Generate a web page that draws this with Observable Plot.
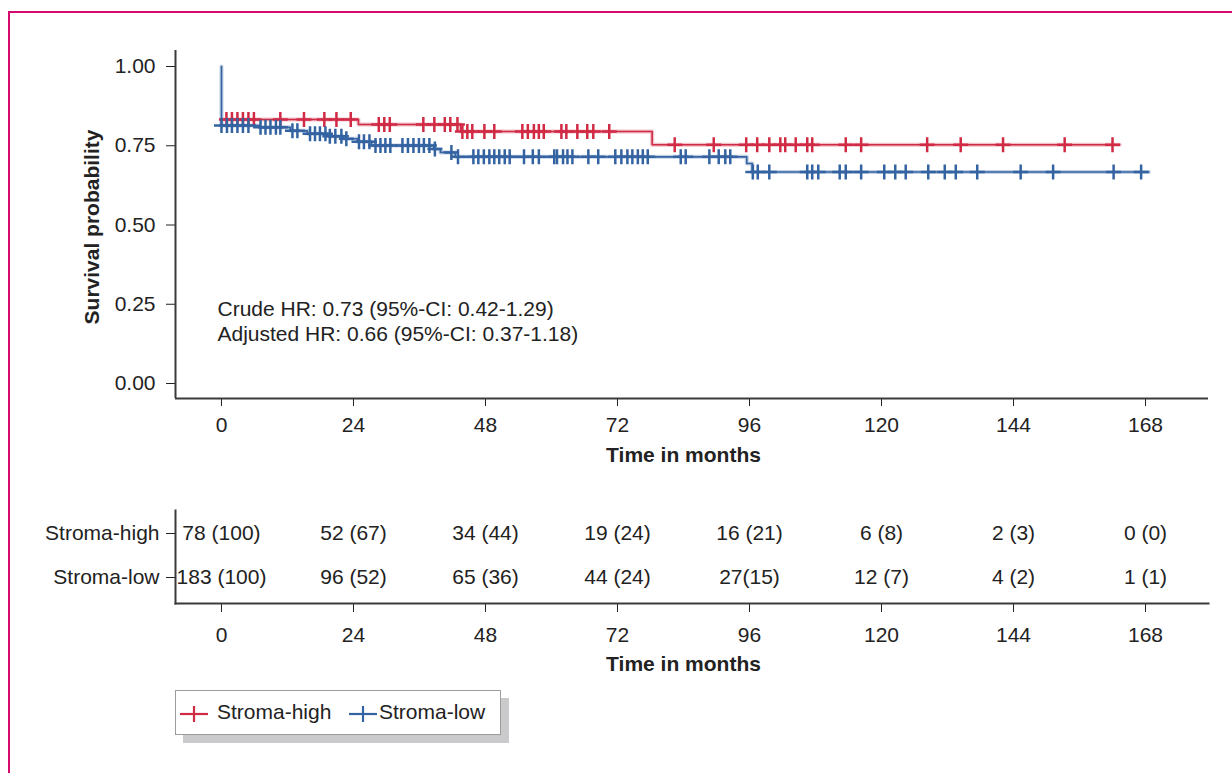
<!DOCTYPE html>
<html>
<head>
<meta charset="utf-8">
<script src="https://cdn.jsdelivr.net/npm/d3@7"></script>
<script src="https://cdn.jsdelivr.net/npm/@observablehq/plot@0.6"></script>
<style>
html,body{margin:0;padding:0;background:#fff;width:1232px;height:773px;overflow:hidden;font-family:"Liberation Sans",Arial,Helvetica,sans-serif;}
#border{position:absolute;left:8px;top:11px;width:1400px;height:900px;border-left:2px solid #d60a6c;border-top:2px solid #d60a6c;}
#km{position:absolute;left:0;top:0;}
#risk{position:absolute;left:0;top:480px;}
#legend{position:absolute;left:175px;top:690px;width:324px;height:43px;border:1px solid #9c9c9c;background:#fff;box-shadow:8px 8px 0 #cacacc;font-size:21px;color:#222;}
#legend .sym{position:absolute;top:13px;}
#legend .lab{position:absolute;top:9px;line-height:24px;white-space:nowrap;}
</style>
</head>
<body>
<div id="border"></div>
<div id="km"></div>
<div id="risk"></div>
<div id="legend"></div>
<script>
// ---------- data ----------
const groups = ["Stroma-high", "Stroma-low"];
const colors = ["#d02a45", "#3463a2"];

// Kaplan-Meier step points (time in months, survival probability)
const highStepTimes = [0, 24.9, 43.5, 78.3, 163.3];
const highStepSurv  = [0.833, 0.817, 0.795, 0.753, 0.753];
const lowStepTimes  = [0, 0, 7, 12.5, 15.6, 19.4, 22.2, 24.7, 27.3, 38.6, 39.8, 42.5, 95.5, 96.5, 168.6];
const lowStepSurv   = [1.0, 0.814, 0.808, 0.797, 0.788, 0.780, 0.772, 0.763, 0.751, 0.740, 0.729, 0.715, 0.694, 0.667, 0.667];

// censoring times (months)
const highCensor = [0.9, 1.9, 2.9, 3.9, 4.9, 5.9, 10.7, 15, 18.7, 20.9, 23.5, 28.6, 29.6, 30.6,
  36.7, 38.7, 40.6, 41.6, 42.9, 43.8, 44.7, 45.6, 47.8, 49.6, 54.7, 55.7, 56.8, 57.7, 58.6,
  61.8, 62.7, 64.7, 66.5, 67.6, 70.5, 82.4, 89.5, 95.4, 97.4, 99.6, 101.6, 102.5, 104.4,
  106.5, 107.4, 113.5, 116.3, 128.3, 134.4, 142.1, 153.3, 162];
const lowCensor = [0, 1, 1.9, 2.9, 3.9, 4.9, 7.1, 8, 8.9, 9.9, 10.7, 12.9, 13.8, 16.1, 17, 17.9,
  18.9, 19.7, 20.7, 21.8, 22.7, 25, 25.9, 26.9, 28, 28.9, 29.8, 30.7, 32.9, 33.9, 34.9, 35.9,
  36.8, 37.8, 38.8, 41.8, 43, 45.8, 46.7, 47.7, 48.7, 49.6, 50.5, 51.5, 52.4, 55, 56.6, 57.7,
  60.5, 61, 62.1, 62.9, 63.8, 66.7, 68.5, 71.6, 72.7, 73.8, 74.7, 75.7, 76.6, 77.5, 83.5, 84.4,
  88.7, 90.4, 91.6, 92.5, 96.6, 97.5, 99.6, 106.5, 107.4, 108.5, 112.4, 113.5, 116.3, 120.5,
  122.5, 124.4, 128.5, 131.5, 133.5, 137.4, 145.3, 151.2, 162.2, 167.2];

// numbers at risk
const timeTicks = [0, 24, 48, 72, 96, 120, 144, 168];
const riskHigh = ["78 (100)", "52 (67)", "34 (44)", "19 (24)", "16 (21)", "6 (8)", "2 (3)", "0 (0)"];
const riskLow  = ["183 (100)", "96 (52)", "65 (36)", "44 (24)", "27(15)", "12 (7)", "4 (2)", "1 (1)"];

const survTicks = [0, 0.25, 0.5, 0.75, 1.0];
const hrText = "Crude HR: 0.73 (95%-CI: 0.42-1.29)\nAdjusted HR: 0.66 (95%-CI: 0.37-1.18)";
const xTitle = "Time in months";
const yTitle = "Survival probability";

// ---------- derived tables ----------
const curve = (times, surv, g) => times.map((t, i) => ({t, s: surv[i], g}));
const survAt = (times, surv, t) => { let s = surv[0]; times.forEach((tt, i) => { if (tt <= t) s = surv[i]; }); return s; };
const highLine = curve(highStepTimes, highStepSurv, groups[0]);
const lowLine = curve(lowStepTimes, lowStepSurv, groups[1]);
const highMarks = highCensor.map(t => ({t, s: survAt(highStepTimes, highStepSurv, t)}));
const lowMarks = lowCensor.map(t => ({t, s: survAt(lowStepTimes, lowStepSurv, t)}));
const riskRows = [
  ...riskHigh.map((label, i) => ({t: timeTicks[i], g: groups[0], label})),
  ...riskLow.map((label, i) => ({t: timeTicks[i], g: groups[1], label}))
];

// plus-shaped censor symbol
const plusSymbol = {
  draw(ctx, size) {
    const r = Math.sqrt(size / Math.PI);
    ctx.moveTo(-r, 0); ctx.lineTo(r, 0);
    ctx.moveTo(0, -r); ctx.lineTo(0, r);
  }
};

const W = 1232;
const xDomain = [-8.36, 179.45];
const yDomain = [-0.0473, 1.0505];
const font = '"Liberation Sans", Arial, Helvetica, sans-serif';
const axisColor = "#3a3a3a";
const midTime = (timeTicks[0] + timeTicks[timeTicks.length - 1]) / 2;

const km = Plot.plot({
  width: W, height: 480,
  marginLeft: 175, marginRight: 24, marginTop: 50, marginBottom: 82,
  x: {domain: xDomain},
  y: {domain: yDomain},
  style: {fontFamily: font, fontSize: "21px", color: "#222", background: "transparent", overflow: "visible"},
  marks: [
    Plot.axisX({ticks: timeTicks, tickSize: 8, tickPadding: 11, label: null, fontSize: 21}),
    Plot.axisY({ticks: survTicks, tickFormat: d3.format(".2f"), tickSize: 9, tickPadding: 11, label: null, fontSize: 21}),
    Plot.ruleX([xDomain[0]], {stroke: axisColor, strokeWidth: 2}),
    Plot.ruleY([yDomain[0]], {stroke: axisColor, strokeWidth: 2}),
    Plot.line(highLine, {x: "t", y: "s", curve: "step-after", stroke: colors[0], strokeWidth: 4, strokeOpacity: 0.3}),
    Plot.line(highLine, {x: "t", y: "s", curve: "step-after", stroke: colors[0], strokeWidth: 1.6}),
    Plot.line(lowLine, {x: "t", y: "s", curve: "step-after", stroke: colors[1], strokeWidth: 4, strokeOpacity: 0.3}),
    Plot.line(lowLine, {x: "t", y: "s", curve: "step-after", stroke: colors[1], strokeWidth: 1.6}),
    Plot.dot(highMarks, {x: "t", y: "s", symbol: plusSymbol, r: 7.5, fill: "none", stroke: colors[0], strokeWidth: 2.5}),
    Plot.dot(lowMarks, {x: "t", y: "s", symbol: plusSymbol, r: 7.5, fill: "none", stroke: colors[1], strokeWidth: 2.5}),
    Plot.text([hrText], {x: [0], y: [0.2], dx: -4, textAnchor: "start", lineAnchor: "middle", lineHeight: 1.19, fontSize: 21, fill: "#222"}),
    Plot.text([xTitle], {x: [midTime], frameAnchor: "bottom", dy: 57, textAnchor: "middle", lineAnchor: "middle", fontWeight: "bold", fontSize: 21, fill: "#222"}),
    Plot.text([yTitle], {y: [0.5], frameAnchor: "left", dx: -83, dy: 2, rotate: -90, textAnchor: "middle", lineAnchor: "middle", fontWeight: "bold", fontSize: 21, fill: "#222"})
  ]
});
document.getElementById("km").appendChild(km);

const risk = Plot.plot({
  width: W, height: 200,
  marginLeft: 175, marginRight: 24, marginTop: 30, marginBottom: 77,
  x: {domain: xDomain},
  y: {type: "point", domain: groups, range: [53, 97], padding: 0},
  style: {fontFamily: font, fontSize: "21px", color: "#222", background: "transparent", overflow: "visible"},
  marks: [
    Plot.axisX({ticks: timeTicks, tickSize: 9, tickPadding: 15, label: null, fontSize: 21}),
    Plot.axisY({tickSize: 9, tickPadding: 7, label: null, fontSize: 21}),
    Plot.frame({anchor: "left", stroke: axisColor, strokeWidth: 2}),
    Plot.frame({anchor: "bottom", stroke: axisColor, strokeWidth: 2}),
    Plot.text(riskRows, {x: "t", y: "g", text: "label", fontSize: 21, fill: "#222"}),
    Plot.text([xTitle], {x: [midTime], frameAnchor: "bottom", dy: 61, textAnchor: "middle", lineAnchor: "middle", fontWeight: "bold", fontSize: 21, fill: "#222"})
  ]
});
document.getElementById("risk").appendChild(risk);

// legend
const legend = document.getElementById("legend");
const symSvg = (c) => `<svg width="30" height="18" viewBox="0 0 30 18"><line x1="1" y1="9" x2="29" y2="9" stroke="${c}" stroke-width="2.2"/><line x1="15" y1="1" x2="15" y2="17" stroke="${c}" stroke-width="2.2"/></svg>`;
const legendPos = [{sym: 3, lab: 41}, {sym: 172, lab: 203}];
groups.forEach((g, i) => {
  const s = document.createElement("div");
  s.className = "sym"; s.style.left = legendPos[i].sym + "px"; s.innerHTML = symSvg(colors[i]);
  legend.appendChild(s);
  const l = document.createElement("div");
  l.className = "lab"; l.style.left = legendPos[i].lab + "px"; l.textContent = g;
  legend.appendChild(l);
});
</script>
</body>
</html>
